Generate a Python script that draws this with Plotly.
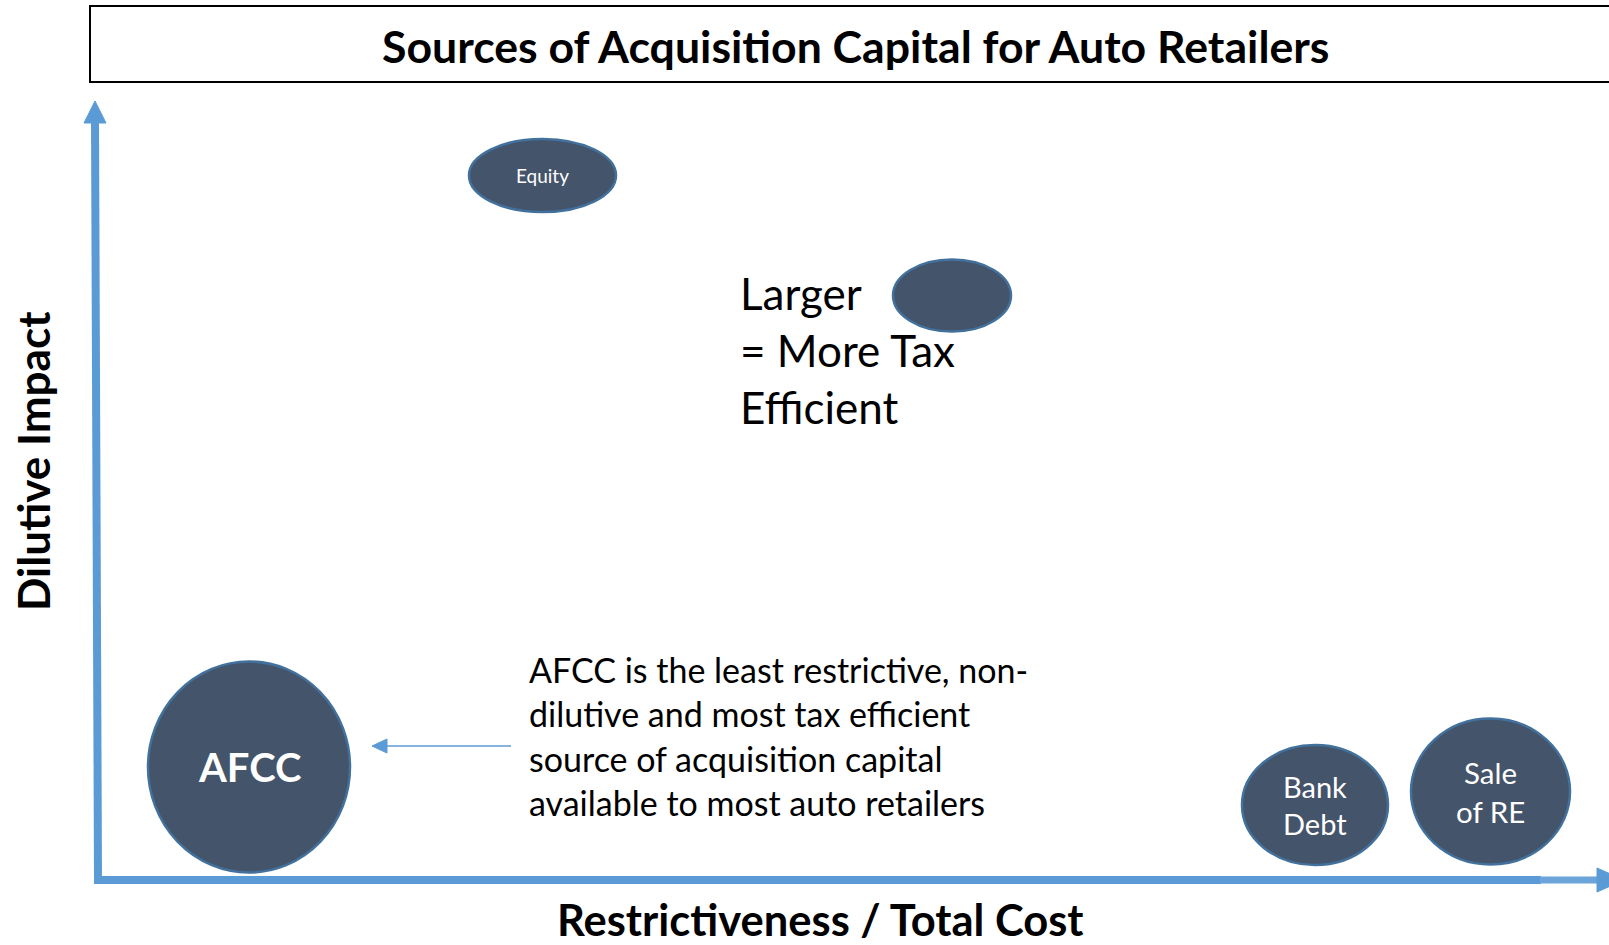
import plotly.graph_objects as go

# ---- data (canvas units: x to the right, y downward, 1609 x 945) ----
sources = ["AFCC", "Equity", "Bank Debt", "Sale of RE", "Legend"]
bubble_lines = [["AFCC"], ["Equity"], ["Bank", "Debt"], ["Sale", "of RE"], []]
bubble_bold = [True, False, False, False, False]
bubble_font = [40, 19, 29, 29.5, 12]
restrictiveness = [249, 542.5, 1315, 1490.5, 952]   # ellipse centre x
dilution = [767, 175.5, 805, 791.5, 295.5]           # ellipse centre y
half_w = [101, 73.5, 73, 79.5, 59]
half_h = [105.5, 36.5, 60, 73, 36]
line_gap = [0, 0, 37, 39, 0]

title = "Sources of Acquisition Capital for Auto Retailers"
x_title = "Restrictiveness / Total Cost"
y_title = "Dilutive Impact"
legend_lines = ["Larger", "= More Tax", "Efficient"]
note_lines = ["AFCC is the least restrictive, non-",
              "dilutive and most tax efficient",
              "source of acquisition capital",
              "available to most auto retailers"]

FILL = "#44546A"
EDGE = "#41719C"
AXIS = "#5B9BD5"
FONT = "Lato, 'Open Sans', sans-serif"

fig = go.Figure()
shapes = []
ann = []

# title box
shapes.append(dict(type="rect", x0=90, x1=1630, y0=6, y1=82,
                   line=dict(color="black", width=2), fillcolor="white", layer="below"))
ann.append(dict(x=855, y=45, text=f"<b>{title}</b>", showarrow=False,
                font=dict(family=FONT, size=44.6, color="black"),
                xanchor="center", yanchor="middle"))

# y axis arrow
shapes.append(dict(type="line", x0=95, y0=120, x1=98, y1=883,
                   line=dict(color=AXIS, width=8)))
shapes.append(dict(type="path", path="M 95,101 L 106,123 L 84,123 Z",
                   fillcolor=AXIS, line=dict(color=AXIS, width=1)))
# x axis arrow
shapes.append(dict(type="line", x0=94, y0=880, x1=1541, y1=880,
                   line=dict(color=AXIS, width=8)))
shapes.append(dict(type="line", x0=1540, y0=880, x1=1600, y1=880,
                   line=dict(color="#6AA4DA", width=7)))
shapes.append(dict(type="path", path="M 1597,868 L 1624,880 L 1597,892 Z",
                   fillcolor=AXIS, line=dict(color=AXIS, width=1)))

# bubbles
for i, s in enumerate(sources):
    cx, cy = restrictiveness[i], dilution[i]
    shapes.append(dict(type="circle", xref="x", yref="y",
                       x0=cx - half_w[i], x1=cx + half_w[i],
                       y0=cy - half_h[i], y1=cy + half_h[i],
                       fillcolor=FILL, line=dict(color=EDGE, width=2.5)))
    lines = bubble_lines[i]
    n = len(lines)
    for j, t in enumerate(lines):
        yy = cy + (j - (n - 1) / 2) * line_gap[i]
        txt = f"<b>{t}</b>" if bubble_bold[i] else t
        ann.append(dict(x=cx, y=yy, text=txt, showarrow=False,
                        font=dict(family=FONT, size=bubble_font[i], color="white"),
                        xanchor="center", yanchor="middle"))

# legend text
for j, t in enumerate(legend_lines):
    ann.append(dict(x=738, y=293 + j * 57, text=t, showarrow=False,
                    font=dict(family=FONT, size=44, color="black"),
                    xanchor="left", yanchor="middle"))

# note text
for j, t in enumerate(note_lines):
    ann.append(dict(x=527, y=669 + j * 44.5, text=t, showarrow=False,
                    font=dict(family=FONT, size=34, color="black"),
                    xanchor="left", yanchor="middle"))

# note arrow
shapes.append(dict(type="line", x0=511, y0=746, x1=385, y1=746,
                   line=dict(color=AXIS, width=1.5)))
shapes.append(dict(type="path", path="M 372,746 L 387,739 L 387,753 Z",
                   fillcolor=AXIS, line=dict(color=AXIS, width=1)))

# axis titles
ann.append(dict(x=820, y=919, text=f"<b>{x_title}</b>", showarrow=False,
                font=dict(family=FONT, size=43.5, color="black"),
                xanchor="center", yanchor="middle"))
ann.append(dict(x=33, y=461, text=f"<b>{y_title}</b>", showarrow=False, textangle=-90,
                font=dict(family=FONT, size=44, color="black"),
                xanchor="center", yanchor="middle"))

for a in ann:
    a.setdefault("xref", "x")
    a.setdefault("yref", "y")
for s in shapes:
    s.setdefault("xref", "x")
    s.setdefault("yref", "y")

fig.update_layout(
    width=1609, height=945,
    margin=dict(l=0, r=0, t=0, b=0),
    paper_bgcolor="white", plot_bgcolor="white",
    xaxis=dict(range=[0, 1609], visible=False, fixedrange=True),
    yaxis=dict(range=[945, 0], visible=False, fixedrange=True),
    shapes=shapes, annotations=ann, showlegend=False,
)

fig.write_html(
    "out.html",
    config={"displayModeBar": False},
    post_script="document.body.style.margin='0';document.body.style.overflow='hidden';",
)
